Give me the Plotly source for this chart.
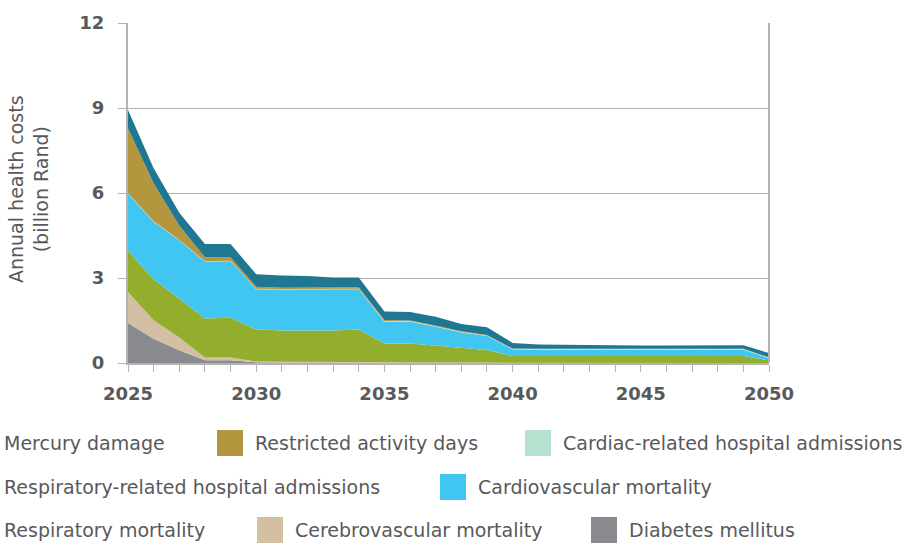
import plotly.graph_objects as go

years = list(range(2025, 2051))

# Layer thicknesses (billion Rand), bottom to top
diabetes = [1.41, 0.86, 0.45, 0.10, 0.10, 0.03, 0.02, 0.02, 0.02, 0.02, 0.01, 0.01, 0.01, 0.01, 0.01,
            0.0, 0.0, 0.0, 0.0, 0.0, 0.0, 0.0, 0.0, 0.0, 0.0, 0.0]
cerebrovascular = [1.10, 0.65, 0.45, 0.09, 0.09, 0.02, 0.02, 0.02, 0.02, 0.02, 0.01, 0.01, 0.01, 0.01, 0.01,
                   0.01, 0.01, 0.01, 0.01, 0.01, 0.01, 0.01, 0.01, 0.01, 0.01, 0.0]
respiratory_mortality = [1.44, 1.45, 1.37, 1.38, 1.41, 1.14, 1.11, 1.11, 1.11, 1.14, 0.67, 0.67, 0.60, 0.52, 0.44,
                         0.24, 0.24, 0.24, 0.24, 0.24, 0.24, 0.24, 0.24, 0.24, 0.24, 0.09]
cardiovascular = [2.03, 2.02, 2.06, 2.00, 1.99, 1.41, 1.44, 1.44, 1.44, 1.42, 0.77, 0.77, 0.66, 0.54, 0.49,
                  0.23, 0.22, 0.22, 0.22, 0.22, 0.22, 0.22, 0.22, 0.22, 0.22, 0.08]
respiratory_hosp = [0.01] * 26
cardiac_hosp = [0.01] * 26
restricted_days = [2.28, 1.34, 0.50, 0.14, 0.12, 0.07, 0.05, 0.05, 0.05, 0.05, 0.04, 0.02, 0.02, 0.02, 0.02,
                   0.01, 0.01, 0.01, 0.01, 0.01, 0.01, 0.01, 0.01, 0.01, 0.01, 0.01]
mercury = [0.65, 0.53, 0.45, 0.47, 0.47, 0.44, 0.43, 0.41, 0.36, 0.35, 0.30, 0.30, 0.31, 0.26, 0.27,
           0.20, 0.15, 0.14, 0.12, 0.12, 0.12, 0.12, 0.12, 0.12, 0.13, 0.15]

series = [
    ("Diabetes mellitus", diabetes, "#8a8b8f"),
    ("Cerebrovascular mortality", cerebrovascular, "#d3bfa1"),
    ("Respiratory mortality", respiratory_mortality, "#93ad2c"),
    ("Cardiovascular mortality", cardiovascular, "#40c6f1"),
    ("Respiratory-related hospital admissions", respiratory_hosp, "#c9b98a"),
    ("Cardiac-related hospital admissions", cardiac_hosp, "#b5e2cf"),
    ("Restricted activity days", restricted_days, "#b3963e"),
    ("Mercury damage", mercury, "#1f7792"),
]

y_ticks = [0, 3, 6, 9, 12]
x_ticks = years
x_ticktext = [str(y) if y % 5 == 0 else "" for y in years]

fig = go.Figure()
for name, vals, col in series:
    fig.add_trace(go.Scatter(
        x=years, y=vals, name=name, stackgroup="one", mode="lines",
        line=dict(width=0, color=col), fillcolor=col, showlegend=False,
    ))

FONT = "DejaVu Sans, sans-serif"
TXT = "#58595b"
GRID = "#b3b3b3"
L, R, T, B = 128, 769, 23, 363
W, H = R - L, B - T

def px(x):
    return (x - L) / W

def py(y):
    return (B - y) / H

tickfont = dict(size=18, color=TXT, family=FONT, weight="bold")

fig.update_layout(
    width=910, height=543,
    margin=dict(l=L, r=910 - R, t=T, b=543 - B, autoexpand=False),
    plot_bgcolor="white", paper_bgcolor="white",
    font=dict(family=FONT, color=TXT),
    showlegend=False,
    xaxis=dict(
        range=[2025, 2050], tickmode="array", tickvals=x_ticks, ticktext=x_ticktext,
        showgrid=False, zeroline=False, showline=True, linecolor=GRID, linewidth=2,
        ticks="outside", ticklen=7, tickcolor=GRID, tickwidth=1,
        tickfont=tickfont, automargin=False, ticklabelstandoff=6,
    ),
    yaxis=dict(
        range=[0, 12], tickmode="array", tickvals=y_ticks,
        showgrid=True, gridcolor=GRID, gridwidth=1, zeroline=False,
        showline=True, linecolor=GRID, linewidth=2,
        ticks="outside", ticklen=8, tickcolor=GRID, tickwidth=1,
        tickfont=tickfont, automargin=False, ticklabelstandoff=10,
    ),
)

# y-axis title
fig.add_annotation(text="Annual health costs<br>(billion Rand)", xref="paper", yref="paper",
                   x=px(28), y=py(189), xanchor="center", yanchor="middle", textangle=-90,
                   showarrow=False, font=dict(size=19, color=TXT, family=FONT))

# right border
fig.add_shape(type="line", xref="paper", yref="paper", x0=1, x1=1, y0=0, y1=1,
              line=dict(color=GRID, width=2))

# manual legend
legend_items = [
    ("Mercury damage", None, 2, 443),
    ("Restricted activity days", "#b3963e", 217, 443),
    ("Cardiac-related hospital admissions", "#b5e2cf", 525, 443),
    ("Respiratory-related hospital admissions", None, 2, 487),
    ("Cardiovascular mortality", "#40c6f1", 440, 487),
    ("Respiratory mortality", None, 2, 530),
    ("Cerebrovascular mortality", "#d3bfa1", 257, 530),
    ("Diabetes mellitus", "#8a8b8f", 591, 530),
]
for label, col, x0, yc in legend_items:
    tx = x0
    if col is not None:
        fig.add_shape(type="rect", xref="paper", yref="paper",
                      x0=px(x0), x1=px(x0 + 26), y0=py(yc + 13), y1=py(yc - 13),
                      fillcolor=col, line=dict(width=0))
        tx = x0 + 36
    fig.add_annotation(text=label, xref="paper", yref="paper", x=px(tx), y=py(yc),
                       xanchor="left", yanchor="middle", showarrow=False,
                       font=dict(size=19, color=TXT, family=FONT))

fig.write_html("out.html", config={"displayModeBar": False},
               post_script="document.body.style.margin='0';document.body.style.overflow='hidden';")
